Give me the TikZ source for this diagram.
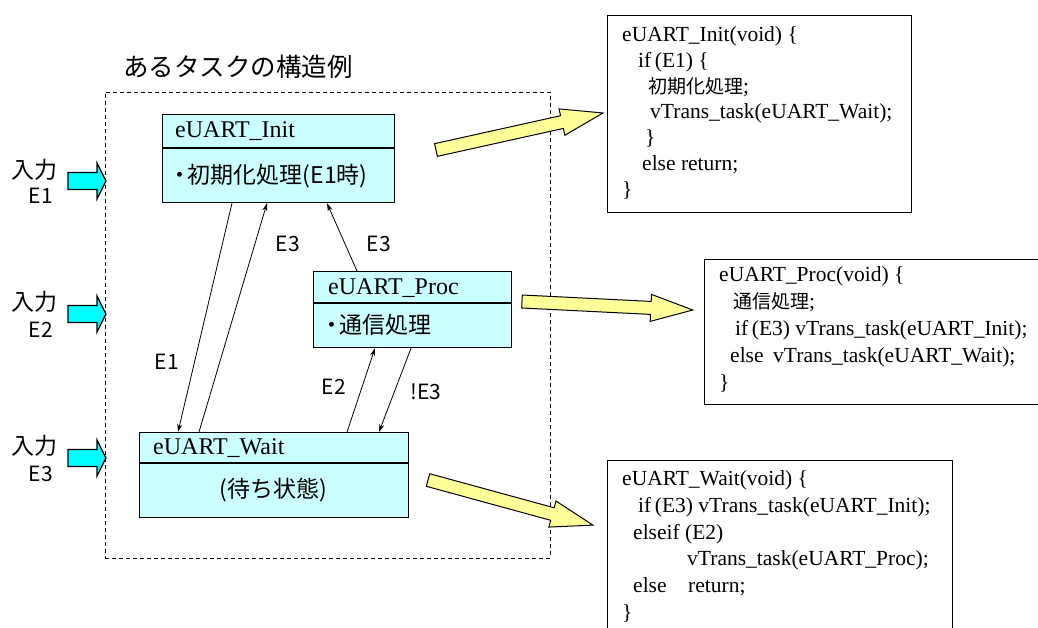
\documentclass[tikz,border=0pt]{standalone}
\usepackage{fontspec}
\setmainfont{Liberation Serif}
\newfontfamily\jp{Noto Sans CJK JP}
\usetikzlibrary{calc,arrows.meta}

\definecolor{boxfill}{HTML}{CCFFFF}
\definecolor{incyan}{HTML}{00FFFF}
\definecolor{fatyellow}{HTML}{FFFF99}

\tikzset{
  statebox/.style={draw, line width=1.2pt, fill=boxfill, inner sep=0pt, anchor=north west},
  codebox/.style={draw, line width=1pt, fill=white, inner sep=0pt, anchor=north west},
  codeline/.style={anchor=base west, inner sep=0pt, font=\fontsize{21.5}{26}\selectfont},
  hdr/.style={anchor=west, inner sep=0pt, font=\fontsize{24}{28}\selectfont},
  body/.style={inner sep=0pt, font=\jp\fontsize{23}{26}\selectfont},
  lbl/.style={inner sep=0pt, font=\jp\fontsize{21}{24}\selectfont},
  inlbl/.style={inner sep=0pt, font=\jp\fontsize{23}{26}\selectfont},
  conn/.style={line width=0.8pt, -{Stealth[length=8pt,width=5pt]}},
  fat/.style={draw, line width=1pt, fill=fatyellow, line join=miter},
  inarrow/.style={draw, line width=1.2pt, fill=incyan, line join=miter},
}
\newcommand{\cj}[1]{{\jp\fontsize{19}{26}\selectfont #1}}

\begin{document}
\begin{tikzpicture}[x=1pt,y=-1pt]
\useasboundingbox (0,0) rectangle (1038,628);
\clip (0,0) rectangle (1038,628);

% title
\node[inner sep=0pt, font=\jp\fontsize{25.5}{30}\selectfont] (title) at (238,67) {あるタスクの構造例};

% dashed task frame
\node[draw, dash pattern=on 4pt off 3pt, line width=0.9pt, minimum width=445pt, minimum height=466pt, anchor=north west, inner sep=0pt] (task) at (105,92) {};

% input labels and arrows
\node[inlbl] (in1a) at (34,170) {入力};
\node[lbl] (in1b) at (41,196) {E1};
\node[inlbl] (in2a) at (34,302) {入力};
\node[lbl] (in2b) at (41,330) {E2};
\node[inlbl] (in3a) at (34,446) {入力};
\node[lbl] (in3b) at (41,474) {E3};
\foreach \yy in {181,314,458}{
  \draw[inarrow, shift={(68,\yy)}] (0,-8.5) -- (29,-8.5) -- (29,-18) -- (38,0) -- (29,18) -- (29,8.5) -- (0,8.5) -- cycle;
}

% state boxes
\node[statebox, minimum width=232pt, minimum height=88pt] (init) at (162,114) {};
\draw[line width=1.2pt] ($(init.north west)+(0,34)$) -- ($(init.north east)+(0,34)$);
\node[hdr] (initH) at ($(init.north west)+(13,17)$) {eUART\_Init};
\node[body, anchor=west] (initB) at ($(init.north west)+(6,62)$) {・\kern-0.15em 初期化処理(E1時)};

\node[statebox, minimum width=198pt, minimum height=76pt] (proc) at (313,271) {};
\draw[line width=1.2pt] ($(proc.north west)+(0,32)$) -- ($(proc.north east)+(0,32)$);
\node[hdr] (procH) at ($(proc.north west)+(15,17)$) {eUART\_Proc};
\node[body, anchor=west] (procB) at ($(proc.north west)+(7,54)$) {・\kern-0.15em 通信処理};

\node[statebox, minimum width=269pt, minimum height=85pt] (wait) at (139,432) {};
\draw[line width=1.2pt] ($(wait.north west)+(0,31)$) -- ($(wait.north east)+(0,31)$);
\node[hdr] (waitH) at ($(wait.north west)+(14,16)$) {eUART\_Wait};
\node[body] (waitB) at ($(wait.north west)+(134.5,58)$) {(待ち状態)};

% transitions
\draw[conn] ($(init.south west)+(70,0)$) -- ($(wait.north west)+(39,0)$);
\draw[conn] ($(wait.north west)+(60,0)$) -- ($(init.south west)+(105,0)$);
\draw[conn] ($(proc.north west)+(44,0)$) -- ($(init.south west)+(165,0)$);
\draw[conn] ($(wait.north west)+(208,0)$) -- ($(proc.south west)+(62,0)$);
\draw[conn] ($(proc.south west)+(98,0)$) -- ($(wait.north west)+(240,0)$);
\node[lbl] (lE1) at (167,362) {E1};
\node[lbl] (lE3a) at (288,244) {E3};
\node[lbl] (lE3b) at (379,244) {E3};
\node[lbl] (lE2) at (334,387) {E2};
\node[lbl] (lnE3) at (426,392) {!E3};

% fat yellow arrows
\draw[fat, shift={(436,150)}, rotate=12.5] (0,-6.5) -- (129,-6.5) -- (129,-13.5) -- (171,0) -- (129,13.5) -- (129,6.5) -- (0,6.5) -- cycle;
\draw[fat, shift={(522,301.5)}, rotate=-2.85] (0,-6.5) -- (129,-6.5) -- (129,-13.5) -- (171,0) -- (129,13.5) -- (129,6.5) -- (0,6.5) -- cycle;
\draw[fat, shift={(428,480)}, rotate=-15.3] (0,-6.5) -- (129,-6.5) -- (129,-13.5) -- (171,0) -- (129,13.5) -- (129,6.5) -- (0,6.5) -- cycle;

% code boxes
\node[codebox, minimum width=304pt, minimum height=197pt] (cInit) at (607,15) {};
\node[codeline] (ci1) at (622,42) {eUART\_Init(void) \{};
\node[codeline] (ci2) at (638,68) {if\,(E1) \{};
\node[codeline] (ci3) at (648,94) {\cj{初期化処理};};
\node[codeline] (ci4) at (650,119) {vTrans\_task(eUART\_Wait);};
\node[codeline] (ci5) at (645,145) {\}};
\node[codeline] (ci6) at (642,171) {else return;};
\node[codeline] (ci7) at (622,197) {\}};

\node[codebox, minimum width=360pt, minimum height=145pt] (cProc) at (704,259) {};
\node[codeline] (cp1) at (719,281) {eUART\_Proc(void) \{};
\node[codeline] (cp2) at (733,308) {\cj{通信処理};};
\node[codeline] (cp3) at (735,335) {if\,(E3) vTrans\_task(eUART\_Init);};
\node[codeline] (cp4) at (730,362) {else};
\node[codeline] (cp4b) at (773,362) {vTrans\_task(eUART\_Wait);};
\node[codeline] (cp5) at (719,389) {\}};

\node[codebox, minimum width=345pt, minimum height=200pt] (cWait) at (607,460) {};
\node[codeline] (cw1) at (622,485) {eUART\_Wait(void) \{};
\node[codeline] (cw2) at (638,512) {if\,(E3) vTrans\_task(eUART\_Init);};
\node[codeline] (cw3) at (633,539) {elseif (E2)};
\node[codeline] (cw4) at (687,565) {vTrans\_task(eUART\_Proc);};
\node[codeline] (cw5) at (633,592) {else};
\node[codeline] (cw5b) at (688,592) {return;};
\node[codeline] (cw6) at (622,619) {\}};
\end{tikzpicture}
\end{document}
